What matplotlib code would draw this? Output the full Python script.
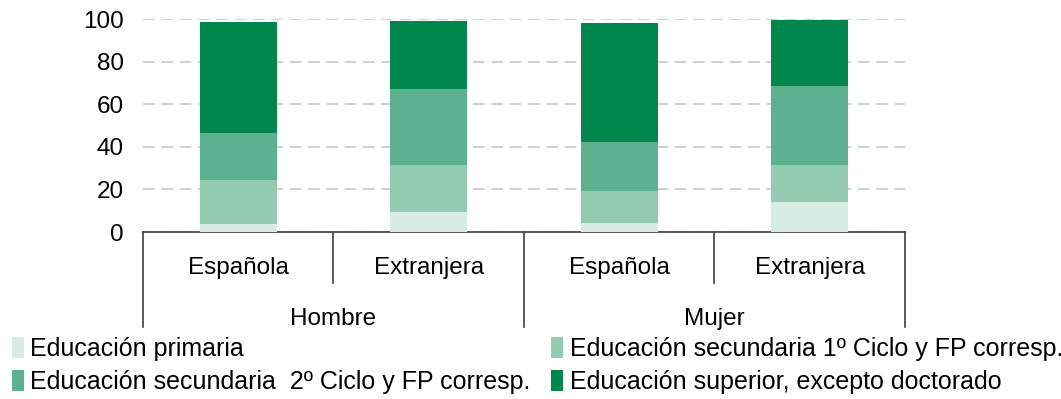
import matplotlib
matplotlib.use("Agg")
import matplotlib.pyplot as plt
import matplotlib.transforms as mtransforms
from matplotlib.patches import Patch
import numpy as np

plt.rcParams['font.family'] = ['Liberation Sans', 'DejaVu Sans']

# Data: education level distribution (%) by sex and nationality
sexes = ["Hombre", "Mujer"]
nationalities = ["Española", "Extranjera", "Española", "Extranjera"]
levels = [
    "Educación primaria",
    "Educación secundaria 1º Ciclo y FP corresp.",
    "Educación secundaria  2º Ciclo y FP corresp.",
    "Educación superior, excepto doctorado",
]
primaria = [3.6, 9.3, 4.1, 14.0]
secundaria_1 = [20.7, 22.1, 15.1, 17.4]
secundaria_2 = [22.1, 35.8, 23.0, 37.2]
superior = [52.3, 32.0, 56.0, 31.0]

colors = ["#d7ede3", "#93cbb2", "#5cb190", "#00874d"]
FS = 17.5

fig = plt.figure(figsize=(10.61, 3.99), dpi=100)
ax = fig.add_axes([0.1348, 0.4185, 0.718, 0.5331])

x = np.arange(len(nationalities))
bottom = np.zeros(len(nationalities))
series = [primaria, secundaria_1, secundaria_2, superior]
for vals, col, lab in zip(series, colors, levels):
    ax.bar(x, vals, width=0.404, bottom=bottom, color=col, label=lab, zorder=3)
    bottom += np.array(vals)

ax.set_xlim(-0.5, 3.5)
ax.set_ylim(0, 100)
ax.set_yticks([0, 20, 40, 60, 80, 100])
ax.tick_params(axis='y', length=0, pad=14, labelsize=FS, labelcolor='black')
ax.set_xticks([])
ax.yaxis.grid(True, color='#c8c8c8', linestyle=(0, (7, 4)), linewidth=1.2, zorder=0)
for s in ['top', 'right', 'left']:
    ax.spines[s].set_visible(False)
ax.spines['bottom'].set_color('#404040')
ax.spines['bottom'].set_linewidth(1.2)

# Two-level category axis
trans = mtransforms.blended_transform_factory(ax.transData, ax.transAxes)
inner_sep = [0.5, 2.5]
outer_sep = [-0.5, 1.5, 3.5]
for xs in inner_sep:
    ax.plot([xs, xs], [0, -0.24], transform=trans, color='#404040', lw=1.2, clip_on=False)
for xs in outer_sep:
    ax.plot([xs, xs], [0, -0.447], transform=trans, color='#404040', lw=1.2, clip_on=False)
for xi, name in zip(x, nationalities):
    ax.text(xi, -0.17, name, transform=trans, ha='center', va='center', fontsize=FS)
for i, name in enumerate(sexes):
    ax.text(2 * i + 0.5, -0.41, name, transform=trans, ha='center', va='center', fontsize=FS)

handles = [Patch(facecolor=c, edgecolor='none') for c in colors]
order = [0, 2, 1, 3]
fig.legend([handles[i] for i in order], [levels[i] for i in order],
           ncol=2, loc='upper left', bbox_to_anchor=(0.011, 0.155),
           frameon=False, fontsize=18, handlelength=0.5, handleheight=0.9,
           handletextpad=0.25, columnspacing=0.8, labelspacing=0.35,
           borderaxespad=0, borderpad=0)

fig.savefig("out.png", dpi=100)
